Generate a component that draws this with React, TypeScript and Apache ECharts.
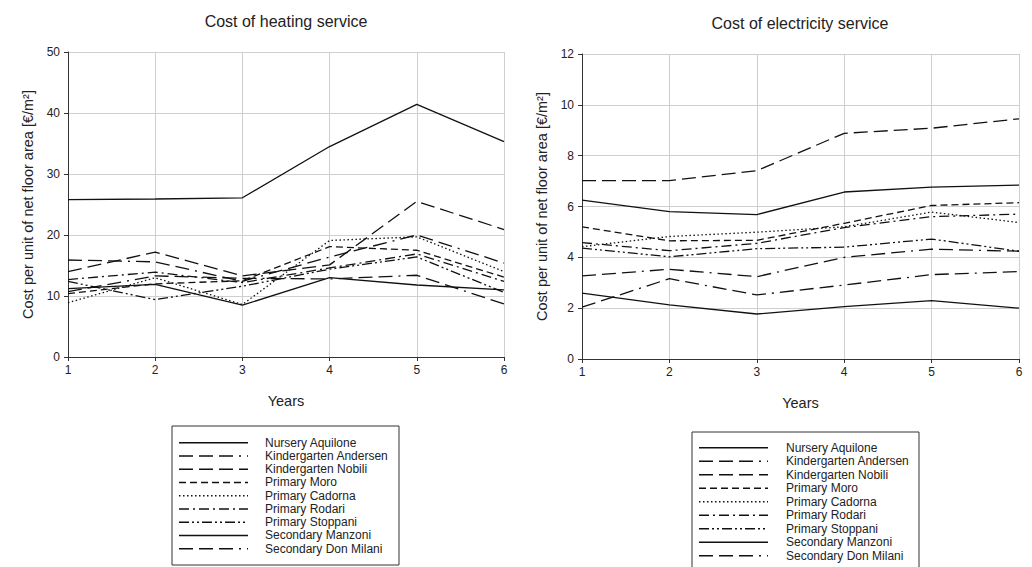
import React, { useEffect, useRef } from "react";
import * as echarts from "echarts";

// Years on the horizontal axis
const years = [1, 2, 3, 4, 5, 6];

const schools = [
  "Nursery Aquilone",
  "Kindergarten Andersen",
  "Kindergarten Nobili",
  "Primary Moro",
  "Primary Cadorna",
  "Primary Rodari",
  "Primary Stoppani",
  "Secondary Manzoni",
  "Secondary Don Milani",
];

// Heating cost [€/m²] per school, years 1..6
const heatAquilone = [25.8, 25.9, 26.1, 34.5, 41.4, 35.3];
const heatAndersen = [15.9, 15.6, 12.4, 16.4, 20.0, 15.4];
const heatNobili = [14.0, 17.2, 13.3, 15.1, 25.5, 20.9];
const heatMoro = [10.4, 12.0, 12.5, 18.1, 17.5, 13.1];
const heatCadorna = [8.9, 13.0, 8.6, 19.1, 19.7, 14.0];
const heatRodari = [12.7, 13.9, 12.2, 14.6, 16.9, 12.4];
const heatStoppani = [12.4, 9.4, 11.6, 14.4, 16.4, 10.6];
const heatManzoni = [11.2, 11.9, 8.5, 13.0, 11.8, 11.0];
const heatDonMilani = [10.7, 13.3, 12.9, 12.8, 13.4, 8.7];

// Electricity cost [€/m²] per school, years 1..6
const elecAquilone = [6.25, 5.8, 5.68, 6.57, 6.76, 6.84];
const elecAndersen = [3.27, 3.53, 3.24, 4.0, 4.32, 4.24];
const elecNobili = [7.02, 7.02, 7.41, 8.88, 9.08, 9.45];
const elecMoro = [5.2, 4.65, 4.67, 5.34, 6.04, 6.15];
const elecCadorna = [4.42, 4.82, 4.99, 5.2, 5.78, 5.37];
const elecRodari = [4.58, 4.26, 4.55, 5.17, 5.6, 5.7];
const elecStoppani = [4.36, 4.02, 4.34, 4.4, 4.72, 4.24];
const elecManzoni = [2.59, 2.13, 1.77, 2.06, 2.3, 2.0];
const elecDonMilani = [2.04, 3.16, 2.52, 2.91, 3.32, 3.44];

const heating = [
  heatAquilone, heatAndersen, heatNobili, heatMoro, heatCadorna,
  heatRodari, heatStoppani, heatManzoni, heatDonMilani,
];
const electricity = [
  elecAquilone, elecAndersen, elecNobili, elecMoro, elecCadorna,
  elecRodari, elecStoppani, elecManzoni, elecDonMilani,
];

// Dash pattern per school (null = solid)
const dashes: (number[] | null)[] = [
  null,
  [14, 6, 14, 6, 14, 6, 2, 6],
  [14, 6],
  [7, 4],
  [1.5, 2.5],
  [10, 4, 2, 4],
  [10, 3, 2, 3, 2, 3],
  null,
  [14, 6, 14, 6, 14, 6, 2, 6],
];

const FONT = "Liberation Sans, Arial, sans-serif";
const INK = "#111";
const LABEL = "#222";

function makeSeries(values: number[][], axisIndex: number) {
  return values.map((vals, i) => ({
    name: schools[i],
    type: "line",
    xAxisIndex: axisIndex,
    yAxisIndex: axisIndex,
    symbol: "none",
    silent: true,
    lineStyle: {
      color: INK,
      width: 1.3,
      type: dashes[i] ? dashes[i] : "solid",
    },
    data: years.map((y, k) => [y, vals[k]]),
  }));
}

function legendBox(x: number, y: number, w: number, h: number, firstRow: number, step: number, lineX0: number, lineX1: number, textX: number) {
  const children: any[] = [
    {
      type: "rect",
      shape: { x, y, width: w, height: h },
      style: { fill: "#fff", stroke: "#333", lineWidth: 1 },
    },
  ];
  schools.forEach((name, i) => {
    const cy = firstRow + i * step;
    children.push({
      type: "line",
      shape: { x1: lineX0, y1: cy, x2: lineX1, y2: cy },
      style: {
        stroke: INK,
        lineWidth: 1.5,
        lineDash: dashes[i] ? dashes[i] : null,
      },
    });
    children.push({
      type: "text",
      x: textX,
      y: cy,
      style: {
        text: name,
        font: `12px ${FONT}`,
        fill: LABEL,
        verticalAlign: "middle",
      },
    });
  });
  return { type: "group", children };
}

function makeXAxis(gridIndex: number) {
  return {
    type: "value",
    gridIndex,
    min: 1,
    max: 6,
    interval: 1,
    name: "Years",
    nameLocation: "middle",
    nameGap: 36,
    nameTextStyle: { fontFamily: FONT, fontSize: 14.5, color: LABEL },
    axisLine: { show: true, lineStyle: { color: "#333", width: 1 } },
    axisTick: { show: true, length: 4, lineStyle: { color: "#333" } },
    axisLabel: { fontFamily: FONT, fontSize: 12, color: LABEL, margin: 7 },
    splitLine: { show: true, lineStyle: { color: "#cfcfcf", width: 1 } },
  };
}

function makeYAxis(gridIndex: number, max: number, interval: number) {
  return {
    type: "value",
    gridIndex,
    min: 0,
    max,
    interval,
    name: "Cost per unit of net floor area [€/m²]",
    nameLocation: "middle",
    nameGap: 33,
    nameTextStyle: { fontFamily: FONT, fontSize: 14.5, color: LABEL },
    axisLine: { show: true, lineStyle: { color: "#333", width: 1 } },
    axisTick: { show: true, length: 4, lineStyle: { color: "#333" } },
    axisLabel: { fontFamily: FONT, fontSize: 12, color: LABEL, margin: 8 },
    splitLine: { show: true, lineStyle: { color: "#cfcfcf", width: 1 } },
  };
}

function titleText(text: string, x: number, y: number) {
  return {
    type: "text",
    x,
    y,
    style: {
      text,
      font: `16px ${FONT}`,
      fill: LABEL,
      align: "center",
      verticalAlign: "middle",
    },
  };
}

export default function App() {
  const ref = useRef<HTMLDivElement>(null);

  useEffect(() => {
    if (!ref.current) return;
    const chart = echarts.init(ref.current, null, { renderer: "svg" });
    chart.setOption({
      animation: false,
      backgroundColor: "#fff",
      grid: [
        { left: 68, top: 52, width: 436, height: 305 },
        { left: 582, top: 54, width: 437, height: 305 },
      ],
      xAxis: [makeXAxis(0), makeXAxis(1)],
      yAxis: [makeYAxis(0, 50, 10), makeYAxis(1, 12, 2)],
      series: [...makeSeries(heating, 0), ...makeSeries(electricity, 1)],
      graphic: [
        titleText("Cost of heating service", 286, 21),
        titleText("Cost of electricity service", 800, 23),
        legendBox(172, 426, 227, 139, 442.7, 13.25, 179, 248, 265),
        legendBox(692, 432, 227, 140, 447.7, 13.5, 699, 768, 786),
      ],
    });
    return () => chart.dispose();
  }, []);

  return (
    <div
      ref={ref}
      style={{ position: "fixed", left: 0, top: 0, width: 1032, height: 567 }}
    />
  );
}
